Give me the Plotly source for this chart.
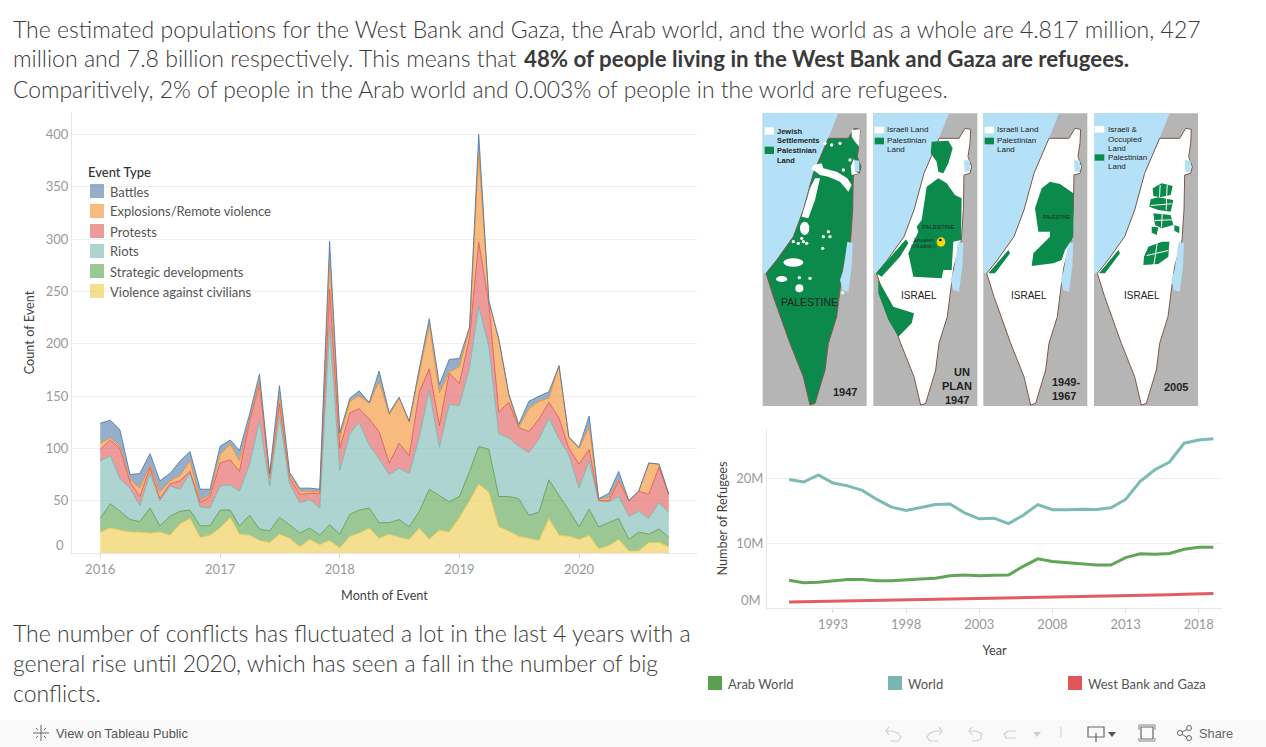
import pandas as pd
import plotly.graph_objects as go

W, H = 1266, 747
FONT = "Lato"

# ---------- data: events per month ----------
months = pd.date_range("2016-01-01", periods=58, freq="MS").strftime("%Y-%m-%d").tolist()
violence = [20,24,22,20,20,19,20,17,28,33,15,17,24,34,18,17,12,10,18,14,6,13,8,12,5,16,19,24,14,18,
            15,13,24,13,22,20,34,50,66,58,25,21,16,14,12,33,17,16,13,17,4,7,13,2,2,10,10,6]
strategic = [13,23,18,12,10,24,6,18,12,8,11,9,17,7,8,19,11,11,16,13,13,11,9,15,13,21,22,19,15,11,
             17,12,16,48,33,29,20,28,36,41,29,33,36,22,27,37,38,25,12,25,21,22,20,11,18,8,13,9]
riots = [55,46,31,30,15,33,24,29,21,35,18,17,23,24,33,49,103,43,97,39,29,27,26,190,61,77,84,60,61,46,
         49,51,71,94,46,93,87,99,134,98,60,56,50,60,70,59,54,53,37,46,25,20,21,22,20,15,25,24]
protests = [11,15,29,6,9,6,2,2,8,2,4,11,22,24,19,41,36,8,12,6,8,6,14,35,21,20,13,25,26,11,
            24,17,43,21,21,30,21,29,61,41,21,34,18,20,19,15,20,6,23,11,0,1,15,15,19,23,34,17]
explosions = [6,2,2,2,8,2,6,3,5,10,2,2,8,15,10,2,2,1,6,3,3,2,2,25,10,11,12,15,48,46,
              43,32,18,42,31,1,16,8,85,2,69,6,0,22,17,4,50,10,15,21,1,3,1,0,0,30,3,0]
battles = [19,17,16,5,14,11,11,7,14,9,11,5,8,4,10,5,7,3,11,2,3,3,2,21,5,3,5,1,10,2,
           1,1,5,6,8,12,8,2,18,1,1,2,3,7,5,6,0,1,1,11,1,4,8,0,0,0,0,0]

# ---------- data: refugees ----------
years = list(range(1990, 2020))
world = [19.9,19.5,20.6,19.35,18.9,18.2,16.8,15.6,15.1,15.5,16.0,16.1,14.7,13.8,13.9,13.05,14.35,16.0,
         15.2,15.2,15.3,15.25,15.5,16.8,19.6,21.4,22.6,25.5,26.0,26.2]
arab = [4.3,3.9,4.0,4.2,4.4,4.4,4.2,4.2,4.4,4.5,4.6,5.0,5.1,5.0,5.05,5.1,6.45,7.6,7.2,7.0,6.8,6.65,6.65,
        7.8,8.4,8.3,8.45,9.1,9.4,9.4]
wbg = [0.93,0.97,1.0,1.05,1.1,1.15,1.2,1.22,1.25,1.3,1.35,1.38,1.42,1.46,1.5,1.54,1.6,1.65,1.7,1.75,1.72,
       1.78,1.83,1.88,1.95,2.0,2.05,2.12,2.18,2.25]

area_series = [("Violence against civilians", violence, "237,201,72"),
               ("Strategic developments", strategic, "89,161,79"),
               ("Riots", riots, "118,183,178"),
               ("Protests", protests, "225,87,89"),
               ("Explosions/Remote violence", explosions, "242,142,43"),
               ("Battles", battles, "78,121,167")]
line_series = [("Arab World", arab, "#59a14f"), ("World", world, "#76b7b2"), ("West Bank and Gaza", wbg, "#e15759")]

# ---------- helpers in page pixels ----------
def X(px): return px / W
def Y(py): return 1 - py / H
shapes, notes = [], []

def rect(x0, y0, x1, y1, color):
    shapes.append(dict(type="rect", xref="paper", yref="paper", x0=X(x0), x1=X(x1), y0=Y(y0), y1=Y(y1),
                       fillcolor=color, line=dict(width=0), layer="above"))
def path(pts, color=None, line=None, lw=1, close=True):
    d = "M " + " L ".join(f"{X(a):.5f},{Y(b):.5f}" for a, b in pts) + (" Z" if close else "")
    shapes.append(dict(type="path", xref="paper", yref="paper", path=d, fillcolor=color or "rgba(0,0,0,0)",
                       line=dict(width=lw if line else 0, color=line or "rgba(0,0,0,0)"), layer="above"))
def text(px, py, s, size=12, color="#333", anchor="left", family=FONT, weight=None, angle=0):
    f = dict(size=size, color=color, family=family)
    if weight: f["weight"] = weight
    notes.append(dict(xref="paper", yref="paper", x=X(px), y=Y(py), text=s, showarrow=False, xanchor=anchor,
                      yanchor="middle", font=f, textangle=angle, borderpad=0, align="left"))

# map helpers: crop coordinates
def mx(z): return 760 + z / 3
def my(z): return 110 + z / 3
def mpoly(pts, color, dx=0, line=None):
    path([(mx(a + dx), my(b)) for a, b in pts], color, line)
def mblob(x0, y0, x1, y1, color, dx=0):
    shapes.append(dict(type="circle", xref="paper", yref="paper", x0=X(mx(x0 + dx)), x1=X(mx(x1 + dx)),
                       y0=Y(my(y0)), y1=Y(my(y1)), fillcolor=color, line=dict(width=0), layer="above"))
def mtext(z_x, z_y, s, size=9, anchor="center", weight=None, color="#222"):
    text(mx(z_x), my(z_y), s, size, color, anchor, "Liberation Sans", weight)

# ---------- header / footer text ----------
T = "#3a3a3a"
text(11.5, 28.5, "The estimated populations for the West Bank and Gaza, the Arab world, and the world as a whole are 4.817 million, 427", 23, T, weight=300)
text(11.5, 58.5, "million and 7.8 billion respectively. This means that", 23.1, T, weight=300)
text(523, 58.5, "<b>48% of people living in the West Bank and Gaza are refugees.</b>", 22.3, T, weight=300)
text(11.5, 88.5, "Comparitively, 2% of people in the Arab world and 0.003% of people in the world are refugees.", 22.9, T, weight=300)
text(11.5, 633, "The number of conflicts has fluctuated a lot in the last 4 years with a", 23, T, weight=300)
text(11.5, 663, "general rise until 2020, which has seen a fall in the number of big", 23, T, weight=300)
text(11.5, 693, "conflicts.", 23, T, weight=300)

# ---------- maps ----------
SEA, GRAY, GREEN, WHITE = "#b4e1f7", "#b5b5b5", "#0b8a4c", "#ffffff"
land = [(283,55),(300,58),(298,100),(292,140),(303,170),(298,190),(280,195),(278,300),(272,390),(250,470),
        (240,540),(230,620),(205,700),(195,780),(165,880),(150,885),(130,800),(90,700),(40,560),(18,490),
        (50,450),(100,380),(130,300),(160,190),(205,85),(265,85)]
sea = [(8,10),(235,10),(205,85),(160,190),(130,300),(100,380),(50,450),(18,490),(8,490)]
dead = [(262,395),(278,400),(275,470),(265,545),(248,540),(240,510),(250,480)]
gali = [(280,150),(298,152),(298,185),(282,185)]
for i, dx in enumerate((0, 332, 662, 994)):
    mpoly([(8,10),(320,10),(320,888),(8,888)], GRAY, dx)
    mpoly(sea, SEA, dx)
    mpoly(land, GREEN if i == 0 else WHITE, dx, "#7a5a4a")
    mpoly(dead, SEA, dx)
    mpoly(gali, SEA, dx)
# panel 1947
mpoly([(160,165),(185,160),(190,175),(230,185),(262,205),(275,225),(265,245),(240,215),(205,200),(180,195),(160,180)], WHITE)
mpoly([(165,205),(180,205),(165,270),(145,325),(125,320),(140,270),(150,235)], WHITE)
mpoly([(275,60),(300,58),(298,110),(285,95),(275,80)], WHITE)
mpoly([(272,170),(282,145),(285,185),(298,190),(275,195)], WHITE)
mblob(120,335,148,375,WHITE); mblob(70,445,130,470,WHITE); mblob(48,498,82,516,WHITE); mblob(106,523,130,547,WHITE)
for a, b in [(195,100),(215,105),(240,100),(125,385),(130,395),(115,400),(100,395),(190,380),(205,365),(188,415),
             (140,400),(118,503),(150,505),(210,380),(160,175),(250,180),(270,150),(248,548)]:
    mblob(a-5,b-5,a+5,b+5,WHITE)
rect(mx(14), my(52), mx(42), my(74), WHITE); rect(mx(14), my(110), mx(42), my(132), GREEN)
mtext(48, 64, "Jewish", 7.5, "left", 700); mtext(48, 92, "Settlements", 7.5, "left", 700)
mtext(48, 121, "Palestinian", 7.5, "left", 700); mtext(48, 150, "Land", 7.5, "left", 700)
mtext(147, 576, "PALESTINE", 10.5); mtext(255, 845, "1947", 11, weight=700)
# panel UN plan
mpoly([(515,95),(565,92),(578,115),(565,160),(550,190),(535,185),(530,155),(512,130)], GREEN)
mpoly([(535,205),(560,220),(585,255),(605,265),(603,390),(580,395),(575,480),(550,480),(545,505),(460,500),
       (445,430),(475,365),(470,350),(485,330),(500,230)], GREEN)
mpoly([(348,490),(438,388),(445,400),(420,440),(365,500)], GREEN)
mpoly([(355,510),(400,590),(462,610),(455,640),(415,680),(385,630),(355,550)], GREEN)
mblob(530,382,556,410,"#f5d90a"); mblob(537,386,545,394,"#111")
rect(mx(344), my(50), mx(372), my(70), WHITE); rect(mx(344), my(83), mx(372), my(103), GREEN)
mtext(377, 60, "Israeli Land", 8, "left"); mtext(377, 91, "Palestinian", 8, "left"); mtext(377, 118, "Land", 8, "left")
mtext(535, 352, "PALESTINE", 6); mtext(490, 392, "Jerusalem", 4.5); mtext(490, 410, "(UN admin.)", 4.5)
mtext(478, 557, "ISRAEL", 10)
mtext(607, 786, "UN", 11, weight=700); mtext(590, 828, "PLAN", 11, weight=700); mtext(592, 870, "1947", 11, weight=700)
# panel 1949-1967
mpoly([(870,215),(900,222),(940,250),(940,380),(915,420),(905,450),(880,460),(815,468),(820,430),(870,380),
       (870,365),(835,365),(825,295),(845,235)], GREEN)
mpoly([(685,490),(745,420),(750,430),(705,490)], GREEN)
rect(mx(674), my(50), mx(702), my(70), WHITE); rect(mx(674), my(83), mx(702), my(103), GREEN)
mtext(707, 60, "Israeli Land", 8, "left"); mtext(707, 91, "Palestinian", 8, "left"); mtext(707, 118, "Land", 8, "left")
mtext(890, 322, "PALESTINE", 5); mtext(808, 557, "ISRAEL", 10)
mtext(917, 816, "1949-", 11, weight=700); mtext(912, 858, "1967", 11, weight=700)
# panel 2005
for poly in [[(1178,235),(1205,220),(1238,228),(1232,255),(1200,262),(1180,258)],
             [(1172,268),(1195,262),(1240,270),(1232,305),(1195,300),(1168,290)],
             [(1180,310),(1232,315),(1240,345),(1205,355),(1185,345)],
             [(1175,350),(1195,352),(1190,375),(1175,368)],
             [(1165,410),(1205,395),(1228,395),(1225,440),(1195,462),(1150,465),(1152,440)],
             [(1243,345),(1258,350),(1258,370),(1243,362)]]:
    mpoly(poly, GREEN)
for poly in [[(1199,225),(1202,225),(1200,262),(1197,262)], [(1220,225),(1223,225),(1220,300),(1217,300)],
             [(1172,285),(1235,280),(1235,283),(1172,288)], [(1205,310),(1208,310),(1206,352),(1203,352)],
             [(1185,330),(1238,328),(1238,331),(1185,333)], [(1190,400),(1193,400),(1183,465),(1180,465)],
             [(1160,435),(1225,420),(1225,423),(1160,438)]]:
    mpoly(poly, WHITE)
mpoly([(1017,490),(1075,420),(1080,430),(1035,490)], GREEN)
rect(mx(1004), my(48), mx(1033), my(68), WHITE); rect(mx(1004), my(133), mx(1033), my(152), GREEN)
mtext(1040, 60, "Israeli &", 8, "left"); mtext(1040, 88, "Occupied", 8, "left"); mtext(1040, 115, "Land", 8, "left")
mtext(1040, 142, "Palestinian", 8, "left"); mtext(1040, 169, "Land", 8, "left")
mtext(1147, 557, "ISRAEL", 10); mtext(1248, 832, "2005", 11, weight=700)

# ---------- area legend ----------
text(86.5, 172, "Event Type", 13, "#333", weight=500)
legend_rows = [area_series[i] for i in (5, 4, 3, 2, 1, 0)]
for k, (name, _, rgb) in enumerate(legend_rows):
    rect(90, 184 + 20 * k, 104, 198 + 20 * k, f"rgba({rgb},0.6)")
    text(108.5, 191.5 + 20 * k, name, 13, "#555")
text(65, 545, "0", 13, "#999", "right")

# ---------- line legend ----------
for (name, _, c), x in zip(line_series, (708, 888, 1068)):
    rect(x, 676, x + 14, 690, c)
    text(x + 19, 683.5, name, 13, "#555")
text(762, 600, "0M", 13, "#999", "right")

# ---------- footer ----------
rect(0, 720, W, H, "#f9f9f9")
text(55, 733, "View on Tableau Public", 12.8, "#555", family="Liberation Sans")
text(1198, 733, "Share", 12.8, "#666", family="Liberation Sans")
for a, b, c, d in [(41,725,41,741),(33,733,49,733),(36,728,38,730),(44,736,46,738),(46,728,44,730),(36,738,38,736)]:
    path([(a, b), (c, d)], None, "#666", 1, False)
ic = "#cfcfcf"
path([(886,731),(892,731),(898,733),(901,737),(898,741),(890,741)], None, ic, 1.2, False)
path([(889,727),(886,731),(889,735)], None, ic, 1.2, False)
path([(942,731),(936,731),(930,733),(927,737),(930,741),(938,741)], None, ic, 1.2, False)
path([(939,727),(942,731),(939,735)], None, ic, 1.2, False)
path([(969,731),(975,731),(981,733),(981,739),(977,741),(972,741)], None, ic, 1.2, False)
path([(972,727),(969,731),(972,735)], None, ic, 1.2, False)
path([(1016,731),(1008,731),(1004,734),(1006,738),(1016,738)], None, ic, 1.2, False)
path([(1033,732),(1041,732),(1037,737)], ic)
path([(1061,727),(1061,737)], None, ic, 1, False)
path([(1088,727),(1104,727),(1104,737),(1088,737)], None, "#666", 1.2)
path([(1096,733),(1096,742)], None, "#666", 1.2, False)
path([(1108,732),(1116,732),(1112,737)], "#555")
path([(1141,727),(1153,727),(1153,739),(1141,739)], None, "#666", 1.2)
path([(1139,730),(1139,725),(1155,725),(1155,730)], None, "#888", 1, False)
path([(1139,738),(1139,741),(1155,741),(1155,738)], None, "#888", 1, False)
path([(1180,733),(1188,729)], None, "#666", 1, False); path([(1180,733),(1188,738)], None, "#666", 1, False)
mini = [(1180,733),(1189,728),(1189,738)]
for a, b in mini:
    shapes.append(dict(type="circle", xref="paper", yref="paper", x0=X(a-2.5), x1=X(a+2.5), y0=Y(b-2.5), y1=Y(b+2.5),
                       fillcolor="#f9f9f9", line=dict(width=1, color="#666"), layer="above"))

# ---------- traces ----------
fig = go.Figure()
for name, vals, rgb in area_series:
    fig.add_trace(go.Scatter(x=months, y=vals, name=name, mode="lines", stackgroup="a",
                             line=dict(width=1, color=f"rgba({rgb},0.85)"), fillcolor=f"rgba({rgb},0.6)",
                             showlegend=False, xaxis="x", yaxis="y"))
for name, vals, c in line_series:
    fig.add_trace(go.Scatter(x=years, y=vals, name=name, mode="lines", line=dict(width=3, color=c),
                             opacity=0.95, showlegend=False, xaxis="x2", yaxis="y2"))

title_font = dict(size=12.7, color="#444", family=FONT)
axis_common = dict(showline=True, linecolor="#e6e6e6", linewidth=1, zeroline=False, automargin=False,
                   tickfont=dict(size=13, color="#999", family=FONT), gridcolor="#f0f0f0", layer="below traces")
fig.update_layout(
    width=W, height=H, autosize=False, margin=dict(l=0, r=0, t=0, b=0),
    paper_bgcolor="white", plot_bgcolor="white", showlegend=False, hovermode=False,
    font=dict(family=FONT, size=12, color="#333"),
    xaxis=dict(axis_common, domain=[X(72), X(697)], anchor="y", range=["2015-10-07", "2020-12-26"], type="date",
               tickvals=["2016-01-01", "2017-01-01", "2018-01-01", "2019-01-01", "2020-01-01"],
               ticktext=["2016", "2017", "2018", "2019", "2020"], showgrid=False, ticks="outside", ticklen=4,
               tickcolor="#ddd", title=dict(text="Month of Event", font=title_font, standoff=15)),
    yaxis=dict(axis_common, domain=[Y(553), Y(112)], anchor="x", range=[0, 421.6],
               tickvals=[50, 100, 150, 200, 250, 300, 350, 400], showgrid=True, ticks="",
               title=dict(text="Count of Event", font=title_font, standoff=8)),
    xaxis2=dict(axis_common, domain=[X(767), X(1222)], anchor="y2", range=[1988.49, 2019.59],
                tickvals=[1993, 1998, 2003, 2008, 2013, 2018], showgrid=False, ticks="outside", ticklen=4,
                tickcolor="#ddd", title=dict(text="Year", font=title_font, standoff=15)),
    yaxis2=dict(axis_common, domain=[Y(608), Y(429)], anchor="x2", range=[0, 27.7],
                tickvals=[10, 20], ticktext=["10M", "20M"], showgrid=True, ticks="",
                title=dict(text="Number of Refugees", font=title_font, standoff=5)),
    shapes=shapes, annotations=notes,
)
fig.write_html("out.html", config=dict(displayModeBar=False),
               post_script="document.body.style.margin='0';document.body.style.overflow='hidden';")
